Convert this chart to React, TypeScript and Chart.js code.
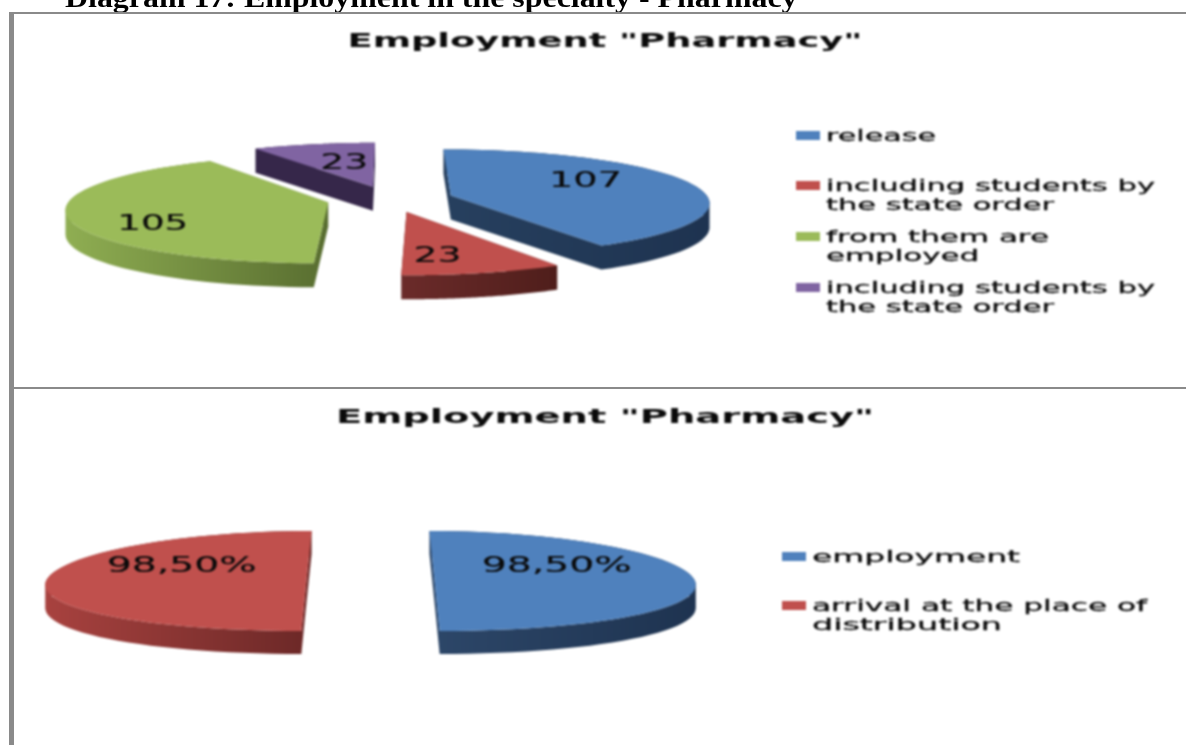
import React, { useEffect, useRef } from "react";
import { Chart, registerables } from "chart.js";

Chart.register(...registerables);

const HEADING = "Diagram 17: Employment in the specialty - Pharmacy";
const TITLE = 'Employment "Pharmacy"';

const LABELS_A = [["release"], ["including students by", "the state order"], ["from them are", "employed"], ["including students by", "the state order"]];
const VALUES_A = [107, 23, 105, 23];
const LABELS_B = [["employment"], ["arrival at the place of", "distribution"]];
const VALUES_B = [98.5, 98.5];

const TOP_COLORS = ["#4f81bd", "#c0504d", "#9bbb59", "#8064a2"];
const SIDE_A = [["#27405f", "#1e3350"], ["#6b2b2a", "#4f1e1b"], ["#8fae52", "#586d30"], ["#36274a", "#36274a"]];
const SIDE_B = [["#2d4769", "#1e3350"], ["#a8423f", "#6b2827"]];

const fmtCount = (v: number) => String(v);
const fmtPct = (v: number) => v.toFixed(2).replace(".", ",") + "%";

function fitted(ctx: any, text: string, x: number, y: number, font: string, width: number, align = "left", heavy = 0.3) {
  ctx.save();
  ctx.font = font;
  ctx.fillStyle = "#0a0a0a";
  ctx.strokeStyle = "#0a0a0a";
  ctx.lineWidth = heavy;
  ctx.textAlign = align;
  ctx.textBaseline = "alphabetic";
  const sx = width / ctx.measureText(text).width;
  ctx.translate(x, y);
  ctx.scale(sx, 1);
  ctx.fillText(text, 0, 0);
  if (heavy) ctx.strokeText(text, 0, 0);
  ctx.restore();
}

const pie3d = {
  id: "pie3d",
  beforeDatasetDraw(chart: any, _args: any, o: any) {
    const ctx = chart.ctx;
    const meta = chart.getDatasetMeta(0);
    const proj = (X: number, V: number) => ({
      x: o.cx + X * o.rx * (1 + o.q * V),
      y: o.cy + o.a * V + o.b * V * V,
    });
    meta.data.forEach((el: any, i: number) => {
      const { startAngle: s, endAngle: e, outerRadius: R } = el;
      const off = el.options.offset / 4 / R;
      const h = (s + e) / 2;
      const ox = Math.cos(h) * off;
      const oy = Math.sin(h) * off;
      const n = 60;
      const arc: any[] = [];
      for (let k = 0; k <= n; k++) {
        const t = s + ((e - s) * k) / n;
        arc.push(proj(ox + Math.cos(t), oy + Math.sin(t)));
      }
      const apex = proj(ox, oy);
      const all = [apex, ...arc];
      const xs = all.map((p) => p.x);
      const g = ctx.createLinearGradient(Math.min(...xs), 0, Math.max(...xs), 0);
      g.addColorStop(0, o.side[i][0]);
      g.addColorStop(1, o.side[i][1]);
      const loop = [...all, apex];
      ctx.save();
      // every wall quad goes into one path, all wound the same way, so neither seams nor holes appear
      ctx.beginPath();
      for (let k = 0; k < loop.length - 1; k++) {
        const a = loop[k];
        const b = loop[k + 1];
        const [p, q] = a.x <= b.x ? [a, b] : [b, a];
        ctx.moveTo(p.x, p.y);
        ctx.lineTo(q.x, q.y);
        ctx.lineTo(q.x, q.y + o.depth);
        ctx.lineTo(p.x, p.y + o.depth);
        ctx.closePath();
      }
      ctx.fillStyle = g;
      ctx.fill();
      ctx.beginPath();
      all.forEach((p, k) => (k ? ctx.lineTo(p.x, p.y) : ctx.moveTo(p.x, p.y)));
      ctx.closePath();
      ctx.fillStyle = el.options.backgroundColor;
      ctx.fill();
      ctx.restore();
    });
    return false;
  },
  afterDatasetsDraw(chart: any, _args: any, o: any) {
    const ctx = chart.ctx;
    const meta = chart.getDatasetMeta(0);
    const values = chart.data.datasets[0].data;
    meta.data.forEach((el: any, i: number) => {
      const R = el.outerRadius;
      const h = (el.startAngle + el.endAngle) / 2;
      const off = el.options.offset / 4 / R;
      const r = off + o.labelR[i];
      const X = Math.cos(h) * r;
      const V = Math.sin(h) * r;
      const x = o.cx + X * o.rx * (1 + o.q * V);
      const y = o.cy + o.a * V + o.b * V * V + o.labelDy[i];
      fitted(ctx, o.format(values[i]), x, y, "21px 'DejaVu Sans'", o.labelW[i], "center", 0.2);
    });
    fitted(ctx, TITLE, o.titleX, o.titleY, "bold 19px 'DejaVu Sans'", o.titleW, "center", 0);
    chart.data.labels.forEach((lines: string[], i: number) => {
      const it = o.legend[i];
      ctx.fillStyle = TOP_COLORS[i];
      ctx.fillRect(o.legendX, it - 10, 24, 9);
      lines.forEach((ln, j) => fitted(ctx, ln, o.legendX + 30, it + j * 19, "16px 'DejaVu Sans'", o.legendW[i][j]));
    });
  },
};

function Pie({ top, height, labels, values, opts }: any) {
  const ref = useRef<HTMLCanvasElement>(null);
  useEffect(() => {
    const chart = new Chart(ref.current as any, {
      type: "pie",
      data: {
        labels,
        datasets: [{ data: values, backgroundColor: TOP_COLORS, borderWidth: 0, offset: height * 0.33 }],
      },
      options: {
        animation: false,
        responsive: false,
        layout: { padding: 0 },
        plugins: { legend: { display: false }, title: { display: false }, tooltip: { enabled: false }, pie3d: opts },
      } as any,
      plugins: [pie3d as any],
    });
    return () => chart.destroy();
  }, []);
  return (
    <canvas
      ref={ref}
      width={1186}
      height={height}
      style={{ position: "absolute", left: 0, top, width: 1186, height, filter: "blur(0.8px)" }}
    />
  );
}

const bar = (left: number, top: number, width: number, height: number) => (
  <div style={{ position: "absolute", left, top, width, height, background: "#8a8a8a" }} />
);

export default function App() {
  return (
    <div style={{ position: "absolute", left: 0, top: 0, width: 1186, height: 745, overflow: "hidden", background: "#fff" }}>
      <Pie
        top={0}
        height={386}
        labels={LABELS_A}
        values={VALUES_A}
        opts={{
          cx: 390, cy: 199, rx: 258, a: 53.5, b: 6.5, q: 0.12, depth: 24,
          side: SIDE_A, format: fmtCount,
          labelR: [0.56, 0.43, 0.68, 0.45], labelDy: [-1, 25, 17, 3], labelW: [73, 48, 71, 48],
          titleX: 605, titleY: 47, titleW: 515,
          legend: [141, 191, 242, 293], legendX: 796,
          legendW: [[110], [329, 228], [223, 153], [329, 228]],
        }}
      />
      <Pie
        top={386}
        height={359}
        labels={LABELS_B}
        values={VALUES_B}
        opts={{
          cx: 370.5, cy: 194, rx: 260, a: 50, b: 1, q: 0.08, depth: 23,
          side: SIDE_B, format: fmtPct,
          labelR: [0.47, 0.48], labelDy: [-8, -8], labelW: [150, 150],
          titleX: 605, titleY: 37, titleW: 538,
          legend: [176, 225], legendX: 782,
          legendW: [[208], [335, 190]],
        }}
      />
      <div
        style={{
          position: "absolute", left: 65, top: -18, whiteSpace: "nowrap", lineHeight: "30px",
          font: "bold 28px 'Liberation Serif'", color: "#000",
          transform: "scaleX(1.139)", transformOrigin: "0 0",
        }}
      >
        {HEADING}
      </div>
      {bar(9, 13, 5, 732)}
      {bar(9, 12, 1177, 2)}
      {bar(9, 387, 1177, 2)}
    </div>
  );
}
